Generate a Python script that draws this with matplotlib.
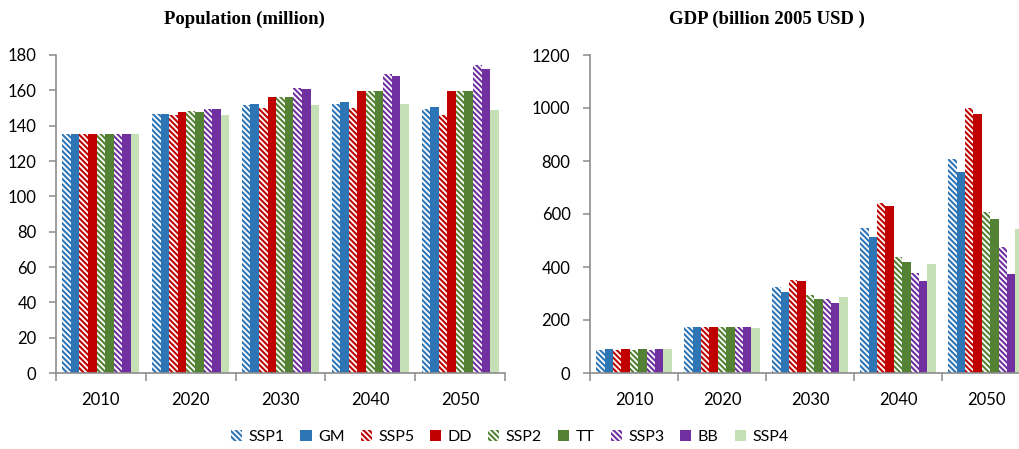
import matplotlib.pyplot as plt
import numpy as np
from matplotlib.patches import Patch

plt.rcParams['font.family'] = ['Lato', 'DejaVu Sans']
plt.rcParams['hatch.linewidth'] = 1.5

years = ['2010', '2020', '2030', '2040', '2050']
scenarios = ['SSP1', 'GM', 'SSP5', 'DD', 'SSP2', 'TT', 'SSP3', 'BB', 'SSP4']
colors = ['#2E75B6', '#2E75B6', '#C00000', '#C00000', '#548235', '#548235',
          '#7030A0', '#7030A0', '#C5E0B4']
hatched = [True, False, True, False, True, False, True, False, False]
HATCH = '\\' * 6

# population (million), one list per scenario, 2010..2050
pop_ssp1 = [135.3, 146.6, 151.7, 152.1, 149.5]
pop_gm = [135.3, 146.4, 152.1, 153.2, 150.4]
pop_ssp5 = [135.3, 145.9, 149.8, 149.8, 145.9]
pop_dd = [135.3, 147.8, 156.1, 159.6, 159.5]
pop_ssp2 = [135.3, 148.3, 156.1, 159.6, 159.5]
pop_tt = [135.3, 147.8, 156.1, 159.6, 159.5]
pop_ssp3 = [135.3, 149.7, 161.3, 169.3, 174.2]
pop_bb = [135.3, 149.3, 160.8, 168.1, 172.3]
pop_ssp4 = [135.3, 146.3, 151.7, 152.5, 149.0]

# GDP (billion 2005 USD)
gdp_ssp1 = [88, 173, 323, 547, 807]
gdp_gm = [90, 174, 305, 514, 759]
gdp_ssp5 = [88, 173, 352, 643, 999]
gdp_dd = [90, 174, 348, 631, 979]
gdp_ssp2 = [88, 173, 294, 439, 609]
gdp_tt = [90, 174, 279, 418, 582]
gdp_ssp3 = [88, 173, 279, 377, 476]
gdp_bb = [90, 174, 265, 346, 373]
gdp_ssp4 = [90, 170, 285, 410, 544]

pop = [pop_ssp1, pop_gm, pop_ssp5, pop_dd, pop_ssp2, pop_tt, pop_ssp3, pop_bb, pop_ssp4]
gdp = [gdp_ssp1, gdp_gm, gdp_ssp5, gdp_dd, gdp_ssp2, gdp_tt, gdp_ssp3, gdp_bb, gdp_ssp4]

fig = plt.figure(figsize=(10.19, 4.49), dpi=100)
W, H = 1019, 449
ax1 = fig.add_axes([56 / W, 76 / H, 449 / W, 318 / H])
ax2 = fig.add_axes([590 / W, 76 / H, 440 / W, 318 / H])

grey = '#8c8c8c'
bw = 0.0955
x = np.arange(len(years))


def draw(ax, data, ymax, step):
    for i, vals in enumerate(data):
        pos = x + (i - 4) * bw
        if hatched[i]:
            ax.bar(pos, vals, bw, facecolor='white', edgecolor=colors[i],
                   hatch=HATCH, linewidth=0)
        else:
            ax.bar(pos, vals, bw, color=colors[i], linewidth=0)
    ax.set_xlim(-0.5, 4.5)
    ax.set_ylim(0, ymax)
    ax.set_yticks(np.arange(0, ymax + 1, step))
    ax.set_xticks(x)
    ax.set_xticklabels(years)
    ax.set_xticks(np.arange(-0.5, 5, 1), minor=True)
    ax.tick_params(axis='x', which='major', length=0, pad=14, labelsize=12)
    ax.tick_params(axis='x', which='minor', length=6, width=1.1, color=grey)
    ax.tick_params(axis='y', length=5, width=1.1, color=grey, pad=9, labelsize=12)
    for s in ['top', 'right']:
        ax.spines[s].set_visible(False)
    for s in ['left', 'bottom']:
        ax.spines[s].set_color(grey)
        ax.spines[s].set_linewidth(1.2)


draw(ax1, pop, 180, 20)
draw(ax2, gdp, 1200, 200)

fig.text(244 / W, 1 - 19 / H, 'Population (million)', ha='center', va='center',
         family='Liberation Serif', fontweight='bold', fontsize=13.5)
fig.text(767 / W, 1 - 19 / H, 'GDP (billion 2005 USD )', ha='center', va='center',
         family='Liberation Serif', fontweight='bold', fontsize=13.5)

handles = []
for i, name in enumerate(scenarios):
    if hatched[i]:
        handles.append(Patch(facecolor='white', edgecolor=colors[i], hatch=HATCH,
                             linewidth=0, label=name))
    else:
        handles.append(Patch(facecolor=colors[i], linewidth=0, label=name))
fig.legend(handles=handles, loc='center', bbox_to_anchor=(0.5, 1 - 437 / H), ncol=9,
           frameon=False, fontsize=11.5, handlelength=0.7, handleheight=0.7,
           handletextpad=0.4, columnspacing=1.0)

fig.savefig('out.png', dpi=100)
